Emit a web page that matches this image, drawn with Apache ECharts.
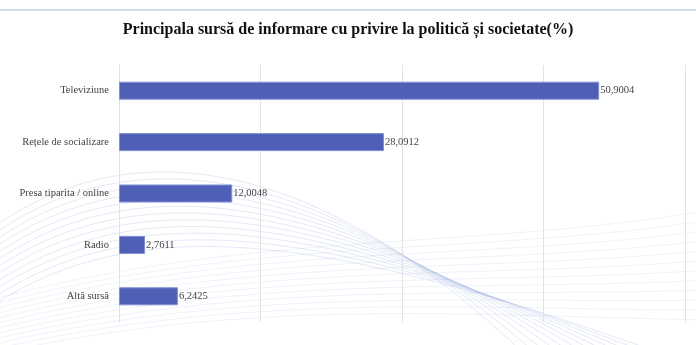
<!DOCTYPE html>
<html><head><meta charset="utf-8">
<script src="https://cdn.jsdelivr.net/npm/echarts@6/dist/echarts.min.js"></script>
<style>html,body{margin:0;padding:0;background:#fff}#c{width:696px;height:345px}</style>
</head><body><div id="c"></div>
<script>
const categories = ["Televiziune", "Rețele de socializare", "Presa tiparita / online", "Radio", "Altă sursă"];
const values = [50.9004, 28.0912, 12.0048, 2.7611, 6.2425];
const axisMax = 60, axisInterval = 15;

const chart = echarts.init(document.getElementById('c'));
const serif = "'Liberation Serif', 'DejaVu Serif', serif";
const waves = [];
for (let i = 0; i < 12; i++) {
  waves.push({type:'bezierCurve', silent:true, z:-10,
    shape:{x1:-10, y1:230 + i*7, cpx1:140, cpy1:120 + i*8, cpx2:330, cpy2:170 + i*6, x2:520 + i*12, y2:350},
    style:{stroke:'rgba(90,120,200,0.16)', lineWidth:1, fill:null}});
  waves.push({type:'bezierCurve', silent:true, z:-10,
    shape:{x1:-10, y1:300 + i*5, cpx1:250, cpy1:230 + i*6, cpx2:480, cpy2:250 + i*6, x2:710, y2:210 + i*10},
    style:{stroke:'rgba(90,130,210,0.10)', lineWidth:1, fill:null}});
}
chart.setOption({
  animation:false,
  backgroundColor:'#fff',
  title:{text:'Principala sursă de informare cu privire la politică și societate(%)', left:'center', top:17,
    textStyle:{fontFamily:serif, fontWeight:'bold', fontSize:16, color:'#111'}},
  graphic:[
    {type:'line', silent:true, shape:{x1:0,y1:10,x2:696,y2:10}, style:{stroke:'#cfe0ee', lineWidth:2}},
    ...waves
  ],
  grid:{left:119, right:11, top:65, bottom:23, containLabel:false, outerBoundsMode:'none'},
  xAxis:{type:'value', min:0, max:axisMax, interval:axisInterval,
    axisLabel:{show:false}, axisLine:{show:false}, axisTick:{show:false},
    splitLine:{show:true, lineStyle:{color:'#e2e2e2', width:1}}},
  yAxis:{type:'category', data:categories, inverse:true,
    axisLine:{show:true, lineStyle:{color:'#e2e2e2'}}, axisTick:{show:false},
    axisLabel:{fontFamily:serif, fontSize:10.5, color:'#444', margin:10}},
  series:[{type:'bar', data:values, barWidth:18,
    itemStyle:{color:'#4e5fb5', borderColor:'#7f8fd4', borderWidth:1},
    label:{show:true, position:'right', distance:1, fontFamily:serif, fontSize:10.5, color:'#444',
      formatter:p => String(p.value).replace('.', ',')}}]
});
</script></body></html>
